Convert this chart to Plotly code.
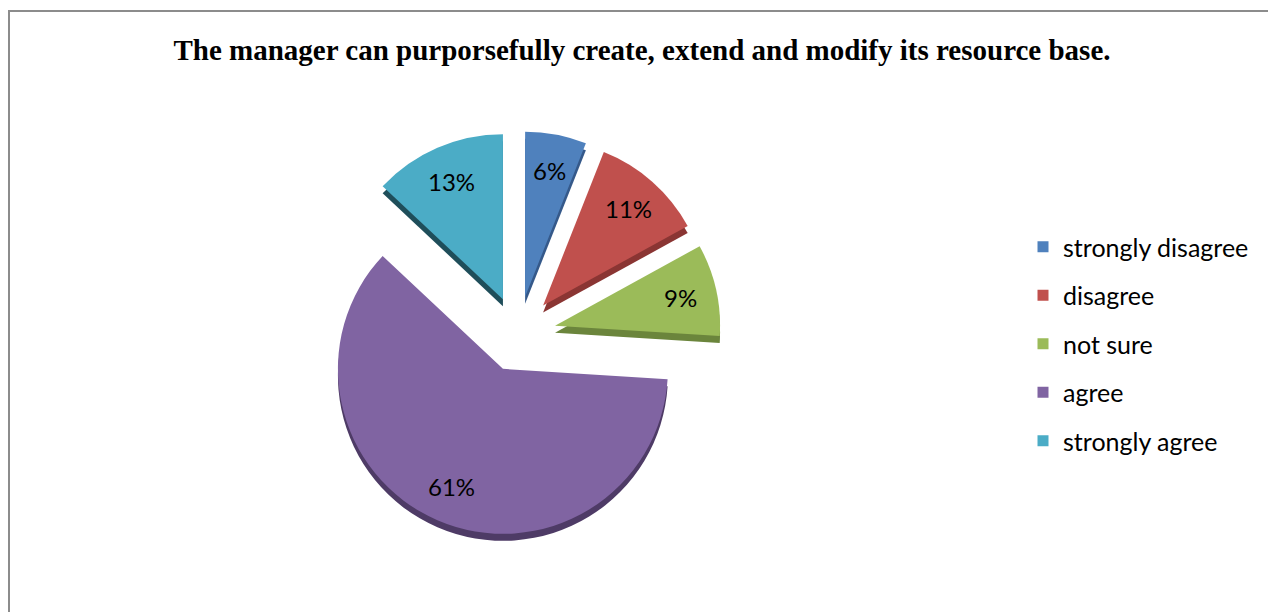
import math
import plotly.graph_objects as go

categories = ["strongly disagree", "disagree", "not sure", "agree", "strongly agree"]
values = [6, 11, 9, 61, 13]
colors = ["#4F81BD", "#C0504D", "#9BBB59", "#8064A2", "#4BACC6"]
depth_colors = ["#35598A", "#8A3533", "#6B853C", "#4E3B66", "#1F4E5A"]
pull_frac = 0.23
title_text = "The manager can purporsefully create, extend and modify its resource base."

W, H = 1276, 612
# pie geometry (figure pixels)
CX, CY, R = 510, 326, 165
half = R * (1 + pull_frac)
dom_x = [(CX - half) / W, (CX + half) / W]
dom_y = [(H - CY - half) / H, (H - CY + half) / H]
shift = 7 / H
pulls = [pull_frac] * len(values)

fig = go.Figure()

# depth layer (3D-like extrusion)
fig.add_trace(go.Pie(
    values=values, labels=categories, sort=False, direction="clockwise", rotation=0,
    pull=pulls, marker=dict(colors=depth_colors, line=dict(width=0)),
    textinfo="none", hoverinfo="skip", showlegend=False,
    domain=dict(x=dom_x, y=[dom_y[0] - shift, dom_y[1] - shift]),
))

fig.add_trace(go.Pie(
    values=values, labels=categories, sort=False, direction="clockwise", rotation=0,
    pull=pulls, marker=dict(colors=colors, line=dict(width=0)),
    textinfo="none", showlegend=False,
    domain=dict(x=dom_x, y=dom_y),
))

# percentage labels placed along each slice's mid-angle (Excel style)
total = sum(values)
cum = 0
annotations = []
for v in values:
    mid = 2 * math.pi * (cum + v / 2) / total
    cum += v
    dx, dy = math.sin(mid), -math.cos(mid)
    px = CX + (pull_frac * R + 0.78 * R) * dx
    py = CY + (pull_frac * R + 0.78 * R) * dy
    annotations.append(dict(
        x=px / W, y=1 - py / H, xref="paper", yref="paper", showarrow=False,
        text=f"{v}%", font=dict(family="Lato", size=24, color="black"),
        xanchor="center", yanchor="middle",
    ))

# legend entries
for name, col in zip(categories, colors):
    fig.add_trace(go.Scatter(
        x=[None], y=[None], mode="markers", name=name, legendgroup=name,
        marker=dict(symbol="square", size=11, color=col),
    ))

fig.update_layout(
    width=W, height=H,
    margin=dict(l=0, r=0, t=0, b=0),
    paper_bgcolor="white", plot_bgcolor="white",
    xaxis=dict(visible=False), yaxis=dict(visible=False),
    title=dict(text="<b>" + title_text + "</b>", x=634 / W, xanchor="center",
               y=1 - 42 / H, yanchor="middle",
               font=dict(family="Liberation Serif", size=29, color="black")),
    legend=dict(x=1015 / W, xanchor="left", y=1 - 336 / H, yanchor="middle",
                font=dict(family="Lato", size=25, color="black"),
                traceorder="grouped", tracegroupgap=13, bgcolor="rgba(0,0,0,0)"),
    annotations=annotations,
    shapes=[dict(type="rect", xref="paper", yref="paper",
                 x0=1 / W, x1=1267 / W, y0=-0.05, y1=1 - 3 / H,
                 line=dict(color="#8C8C8C", width=2), fillcolor="rgba(0,0,0,0)")],
)

fig.write_html("out.html")
